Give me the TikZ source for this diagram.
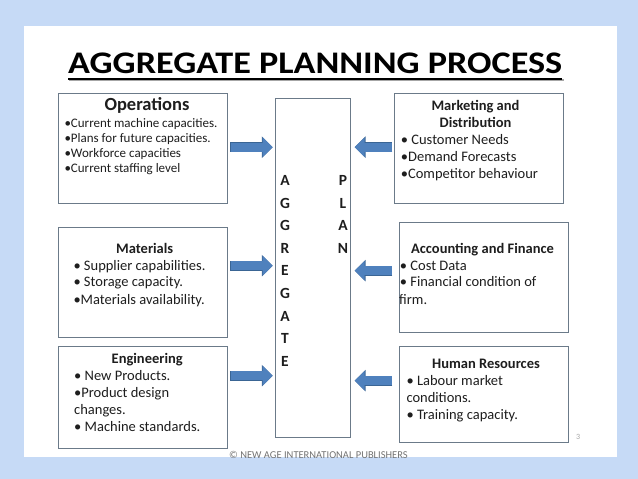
\documentclass[tikz,border=0pt]{standalone}
\usepackage{fontspec}
\setmainfont{Carlito}
\usetikzlibrary{arrows.meta}
\definecolor{bgblue}{HTML}{C6DAF6}
\definecolor{boxline}{HTML}{6B7A89}
\definecolor{arrfill}{HTML}{4F81BD}
\definecolor{arrline}{HTML}{3A6594}
\definecolor{txt}{HTML}{1E1E1E}
\newcommand\ttltext{\resizebox{494pt}{20.6pt}{\bfseries AGGREGATE PLANNING PROCESS}}
\tikzset{
  box/.style={draw=boxline, line width=1.4pt, inner sep=0pt, anchor=north west},
  hd/.style={font=\bfseries\fontsize{14.5}{17}\selectfont, text=txt, inner sep=0pt, anchor=base},
  bighd/.style={font=\bfseries\fontsize{18.5}{20}\selectfont, text=txt, inner sep=0pt, anchor=base},
  ln/.style={font=\fontsize{14.5}{17}\selectfont, text=txt, inner sep=0pt, anchor=base west},
  sln/.style={font=\fontsize{13}{15}\selectfont, text=txt, inner sep=0pt, anchor=base west},
  ltr/.style={font=\bfseries\fontsize{15.5}{17}\selectfont, text=txt, inner sep=0pt, anchor=base},
  fat/.style={draw=arrfill, line width=9pt, -{Triangle[length=10pt,width=19pt]},
    preaction={draw=arrline, line width=10.2pt, shorten <=-0.6pt, -{Triangle[length=10.8pt,width=20.8pt]}}}
}
\begin{document}
\begin{tikzpicture}[x=1pt,y=-1pt]
\useasboundingbox (0,0) rectangle (638,479);
\fill[bgblue] (0,0) rectangle (638,479);
\fill[white] (24,26) rectangle (617,457);

% title
\node[anchor=base west, inner sep=0pt, text=black] (title) at (68,73.3) {\ttltext};
\draw[line width=2.4pt, black!35] ([xshift=1.4pt,yshift=-6.6pt]title.base west) -- ([xshift=1.4pt,yshift=-6.6pt]title.base east);
\draw[line width=2.4pt, black] ([yshift=-5.4pt]title.base west) -- ([yshift=-5.4pt]title.base east);

% boxes
\node[box, minimum width=169pt, minimum height=110pt] (ops) at (58,93) {};
\node[box, minimum width=169pt, minimum height=110pt] (mat) at (58,227) {};
\node[box, minimum width=169pt, minimum height=102pt] (eng) at (58,346) {};
\node[box, minimum width=75pt, minimum height=339pt] (agg) at (275,98) {};
\node[box, minimum width=169pt, minimum height=110pt] (mkt) at (394,93) {};
\node[box, minimum width=169pt, minimum height=110pt] (acc) at (399,222) {};
\node[box, minimum width=169pt, minimum height=96pt] (hr) at (399,346) {};

% aggregate plan letters
\foreach \l [count=\i] in {A,G,G,R,E,G,A,T,E}
  \node[ltr, name=ag\i] at (285, {185.5+22.6*(\i-1)}) {\l};
\foreach \l [count=\i] in {P,L,A,N}
  \node[ltr, name=pl\i] at (343, {185.5+22.6*(\i-1)}) {\l};

% Operations
\node[bighd] (opsH) at (147,110) {Operations};
\node[sln] (ops1) at (64.3,127) {•Current machine capacities.};
\node[sln] (ops2) at (64.3,142) {•Plans for future capacities.};
\node[sln] (ops3) at (64.3,157) {•Workforce capacities};
\node[sln] (ops4) at (64.3,172) {•Current staffing level};

% Marketing
\node[hd] (mktH1) at (475.5,110.7) {Marketing and};
\node[hd] (mktH2) at (475.5,127.3) {Distribution};
\node[ln] (mkt1) at (400.7,144.3) {• Customer Needs};
\node[ln] (mkt2) at (400.7,161.7) {•Demand Forecasts};
\node[ln] (mkt3) at (400.7,178.3) {•Competitor behaviour};

% Materials
\node[hd] (matH) at (144.7,253.3) {Materials};
\node[ln] (mat1) at (73.3,270) {• Supplier capabilities.};
\node[ln] (mat2) at (73.3,286.7) {• Storage capacity.};
\node[ln] (mat3) at (73.3,304) {•Materials availability.};

% Engineering
\node[hd] (engH) at (147.2,363.3) {Engineering};
\node[ln] (eng1) at (74,380) {• New Products.};
\node[ln] (eng2) at (74,397.3) {•Product design};
\node[ln] (eng3) at (74,414.3) {changes.};
\node[ln] (eng4) at (74,431.7) {• Machine standards.};

% Accounting
\node[hd] (accH) at (482.5,253.3) {Accounting and Finance};
\node[ln] (acc1) at (399.7,270) {• Cost Data};
\node[ln] (acc2) at (399.7,286.7) {• Financial condition of};
\node[ln] (acc3) at (399,304) {firm.};

% Human resources
\node[hd] (hrH) at (486,368.3) {Human Resources};
\node[ln] (hr1) at (406.3,385.7) {• Labour market};
\node[ln] (hr2) at (406.3,402.7) {conditions.};
\node[ln] (hr3) at (406.3,419.3) {• Training capacity.};

% arrows
\draw[fat] ([xshift=2.3pt,yshift=1.5pt]ops.east) -- ([xshift=-2.3pt,yshift=1.5pt]ops.east -| agg.west);
\draw[fat] ([xshift=2.3pt,yshift=17pt]mat.east) -- ([xshift=-2.3pt,yshift=17pt]mat.east -| agg.west);
\draw[fat] ([xshift=2.3pt,yshift=22pt]eng.east) -- ([xshift=-2.3pt,yshift=22pt]eng.east -| agg.west);
\draw[fat] ([xshift=-2.3pt,yshift=1.5pt]mkt.west) -- ([xshift=3.3pt,yshift=1.5pt]mkt.west -| agg.east);
\draw[fat] ([xshift=-7.3pt,yshift=7pt]acc.west) -- ([xshift=3.3pt,yshift=7pt]acc.west -| agg.east);
\draw[fat] ([xshift=-7.3pt,yshift=14pt]hr.west) -- ([xshift=3.3pt,yshift=14pt]hr.west -| agg.east);

% footer
\node[font=\fontsize{10.5}{11}\selectfont, text=black!55, anchor=base west, inner sep=0pt] (copy) at (229,458.5) {© NEW AGE INTERNATIONAL PUBLISHERS};
\node[font=\fontsize{8}{9}\selectfont, text=black!35, anchor=base west, inner sep=0pt] (pg) at (576,439) {3};
\end{tikzpicture}
\end{document}
